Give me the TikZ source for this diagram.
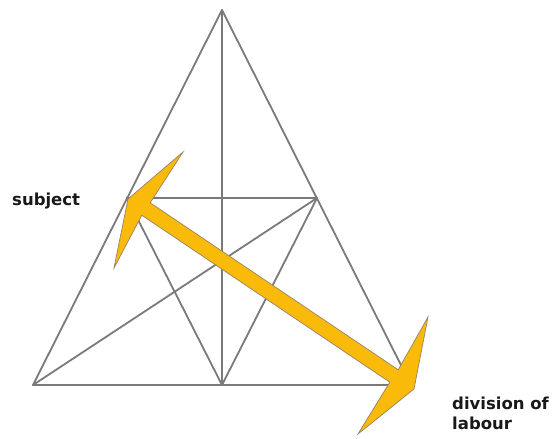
\documentclass[tikz,border=0pt]{standalone}
\usepackage{fontspec}
\newfontfamily\lblfont{DejaVu Sans}[BoldFont={DejaVu Sans Bold}]
\definecolor{edgegray}{RGB}{122,122,122}
\definecolor{arrowfill}{RGB}{250,186,10}
\definecolor{arrowedge}{RGB}{150,130,110}
\begin{document}
\begin{tikzpicture}[x=1pt,y=-1pt,
  edge/.style={draw=edgegray,line width=1.8pt,line cap=round,line join=round},
  corner/.style={coordinate},
  lbl/.style={inner sep=0pt,font=\lblfont\bfseries\fontsize{16.5}{20}\selectfont,align=left,text=black!90},
  bigarrow/.style={fill=arrowfill,draw=arrowedge,line width=0.7pt,line join=miter}]
\useasboundingbox (0,0) rectangle (552,439);
\fill[white] (0,0) rectangle (552,439);
% corners of the triangle
\node[corner] (apex) at (222,10) {};
\node[corner] (bl) at (33,385) {};
\node[corner] (br) at (411,385) {};
\node[corner] (bm) at (222,385) {};
\node[corner] (il) at (127,198) {};
\node[corner] (ir) at (317,198) {};
% lines
\draw[edge] (apex) -- (bl) -- (br) -- cycle;
\draw[edge] (apex) -- (bm);
\draw[edge] (il) -- (ir);
\draw[edge] (il) -- (bm);
\draw[edge] (ir) -- (bm);
\draw[edge] (bl) -- (ir);
\draw[edge] (il) -- (br);
% double arrow
\draw[bigarrow] (128,199) -- (183,152) -- (150.2,202.8) -- (398.2,369.8)
  -- (428,317) -- (414,389) -- (358,434) -- (389.8,382.2) -- (141.8,215.2)
  -- (114,268) -- cycle;
% labels
\node[lbl,anchor=base west] (subj) at (12,205) {subject};
\node[lbl,anchor=north west] (div) at (452,397) {division of\\labour};
\end{tikzpicture}
\end{document}
